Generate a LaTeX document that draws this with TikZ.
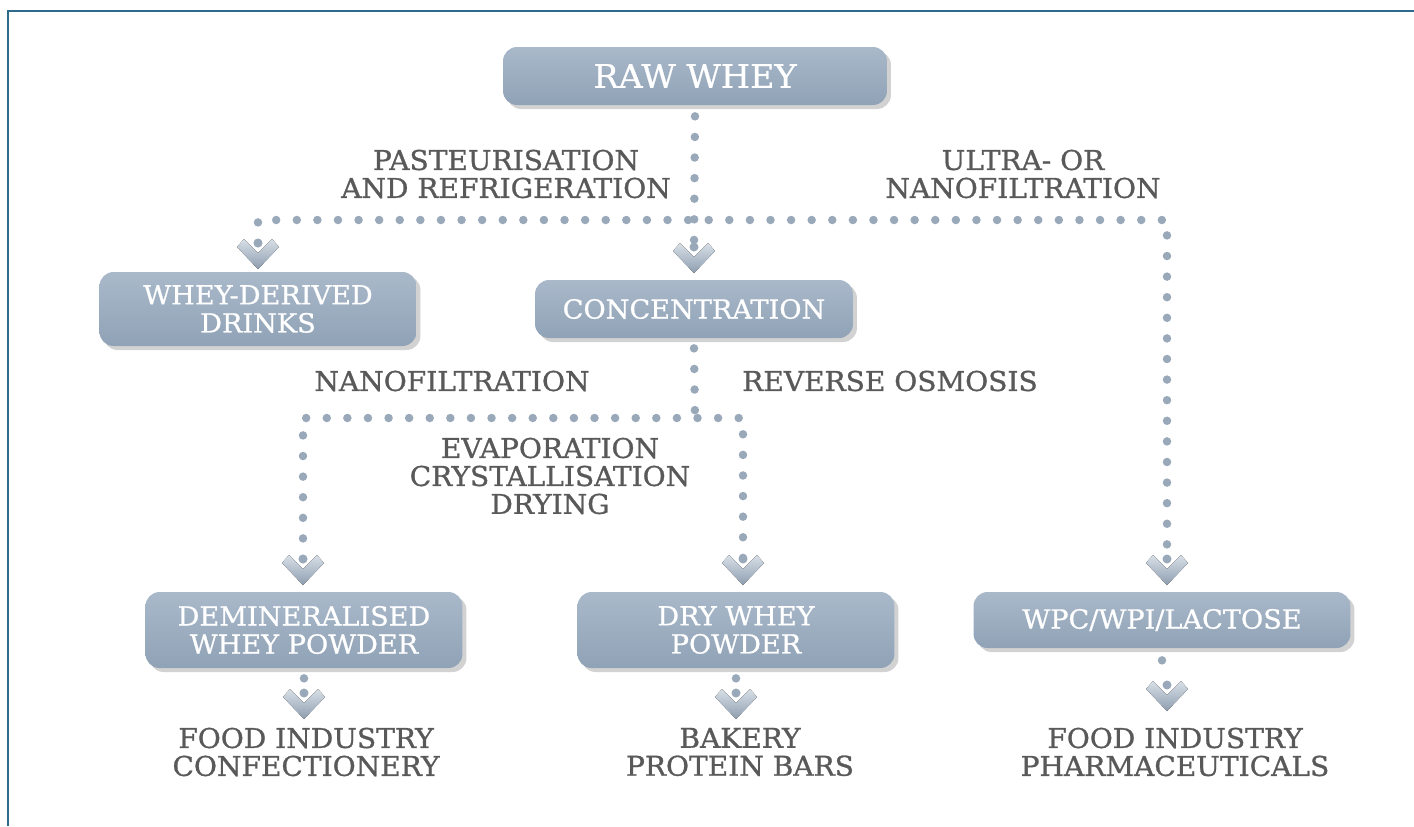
\documentclass[tikz,border=0pt]{standalone}
\usepackage{fontspec}
\setmainfont{DejaVu Serif}
\newfontfamily\lblfont{DejaVu Serif}[FakeStretch=1.03,FakeBold=1]
\newfontfamily\stagefont{DejaVu Serif}[FakeStretch=1.03,FakeBold=0.8]
\usetikzlibrary{shadows}
\definecolor{boxc}{HTML}{9AACBF}
\definecolor{boxtop}{HTML}{A9B9CA}
\definecolor{boxbot}{HTML}{90A2B6}
\definecolor{dotc}{HTML}{9AA9BA}
\definecolor{txtc}{HTML}{595959}
\definecolor{framec}{HTML}{2E6B8A}
\definecolor{chevlight}{HTML}{D8E0E7}
\definecolor{chevdark}{HTML}{8D9DAF}
\begin{document}
\begin{tikzpicture}[x=0.02cm,y=-0.02cm,
	stage/.style={top color=boxtop,middle color=boxc,bottom color=boxbot,rounded corners=0.28cm,text=white,align=center,inner sep=0pt,
		font=\stagefont\fontsize{15}{16}\selectfont,
		drop shadow={shadow xshift=0.08cm,shadow yshift=-0.08cm,opacity=0.25,fill=black!70}},
	lbl/.style={text=txtc,align=center,font=\lblfont\fontsize{15.5}{15.9}\selectfont},
	dots/.style={dotc,line width=0.17cm,line cap=round,dash pattern=on 0pt off 0.412cm},
	pics/chev/.style={code={
		\fill[top color=chevlight,bottom color=chevdark] (-21,4)--(0,26)--(21,4)--(14,-4)--(0,10)--(-14,-4)--cycle;
		\fill[dotc] (0,0) circle(4.5);}}]
	\useasboundingbox (0,0) rectangle (1414,826);
	\draw[framec,line width=0.05cm] (8,826)--(8,11)--(1414,11);

	\node[stage,minimum width=7.68cm,minimum height=1.16cm,font=\stagefont\fontsize{18.5}{20}\selectfont] (raw) at (695,76) {RAW WHEY};
	\node[stage,minimum width=6.34cm,minimum height=1.48cm] (drinks) at (258,309) {WHEY-DERIVED\\DRINKS};
	\node[stage,minimum width=6.36cm,minimum height=1.16cm] (conc) at (694,309) {CONCENTRATION};
	\node[stage,minimum width=6.34cm,minimum height=1.52cm] (demin) at (304,630) {DEMINERALISED\\WHEY POWDER};
	\node[stage,minimum width=6.34cm,minimum height=1.52cm] (dry) at (736,630) {DRY WHEY\\POWDER};
	\node[stage,minimum width=7.54cm,minimum height=1.12cm] (wpc) at (1162,620) {WPC/WPI/LACTOSE};

	\node[lbl] (past) at (506,174) {PASTEURISATION\\AND REFRIGERATION};
	\node[lbl] (ultra) at (1023,174) {ULTRA- OR\\NANOFILTRATION};
	\node[lbl] (nano) at (452,381) {NANOFILTRATION};
	\node[lbl] (rev) at (890,381) {REVERSE OSMOSIS};
	\node[lbl] (evap) at (550,476) {EVAPORATION\\CRYSTALLISATION\\DRYING};
	\node[lbl] (use1) at (306,752) {FOOD INDUSTRY\\CONFECTIONERY};
	\node[lbl] (use2) at (740,752) {BAKERY\\PROTEIN BARS};
	\node[lbl] (use3) at (1175,752) {FOOD INDUSTRY\\PHARMACEUTICALS};

	\coordinate (hl) at (258,220);
	\coordinate (hr) at (1167,220);
	\coordinate (ml) at (303,418);
	\coordinate (mj) at (695,418);
	\coordinate (mr) at (743,418);
	\coordinate (cd) at (258,243);
	\coordinate (cc) at (694,247);
	\coordinate (cw) at (1167,559);
	\coordinate (cdm) at (303,559);
	\coordinate (cdr) at (743,559);
	\coordinate (ud) at (304,693);
	\coordinate (ub) at (736,693);
	\coordinate (uw) at (1167,685);

	\draw[dots] ([yshift=-0.22cm]raw.south) -- (cc);
	\draw[dots] (cd) -- (hl) -- (hr) -- (cw);
	\draw[dots] ([yshift=-0.2cm]conc.south) -- (mj);
	\draw[dots] (cdm) -- (ml) -- (mr) -- (cdr);
	\draw[dots,shorten >=0.2cm] ([yshift=-0.2cm]demin.south) -- (ud);
	\draw[dots,shorten >=0.2cm] ([yshift=-0.2cm]dry.south) -- (ub);
	\draw[dots,shorten >=0.2cm] ([yshift=-0.24cm]wpc.south) -- (uw);

	\foreach \c in {cd,cc,cw,cdm,cdr,ud,ub,uw}
		\pic at (\c) {chev};
\end{tikzpicture}
\end{document}
